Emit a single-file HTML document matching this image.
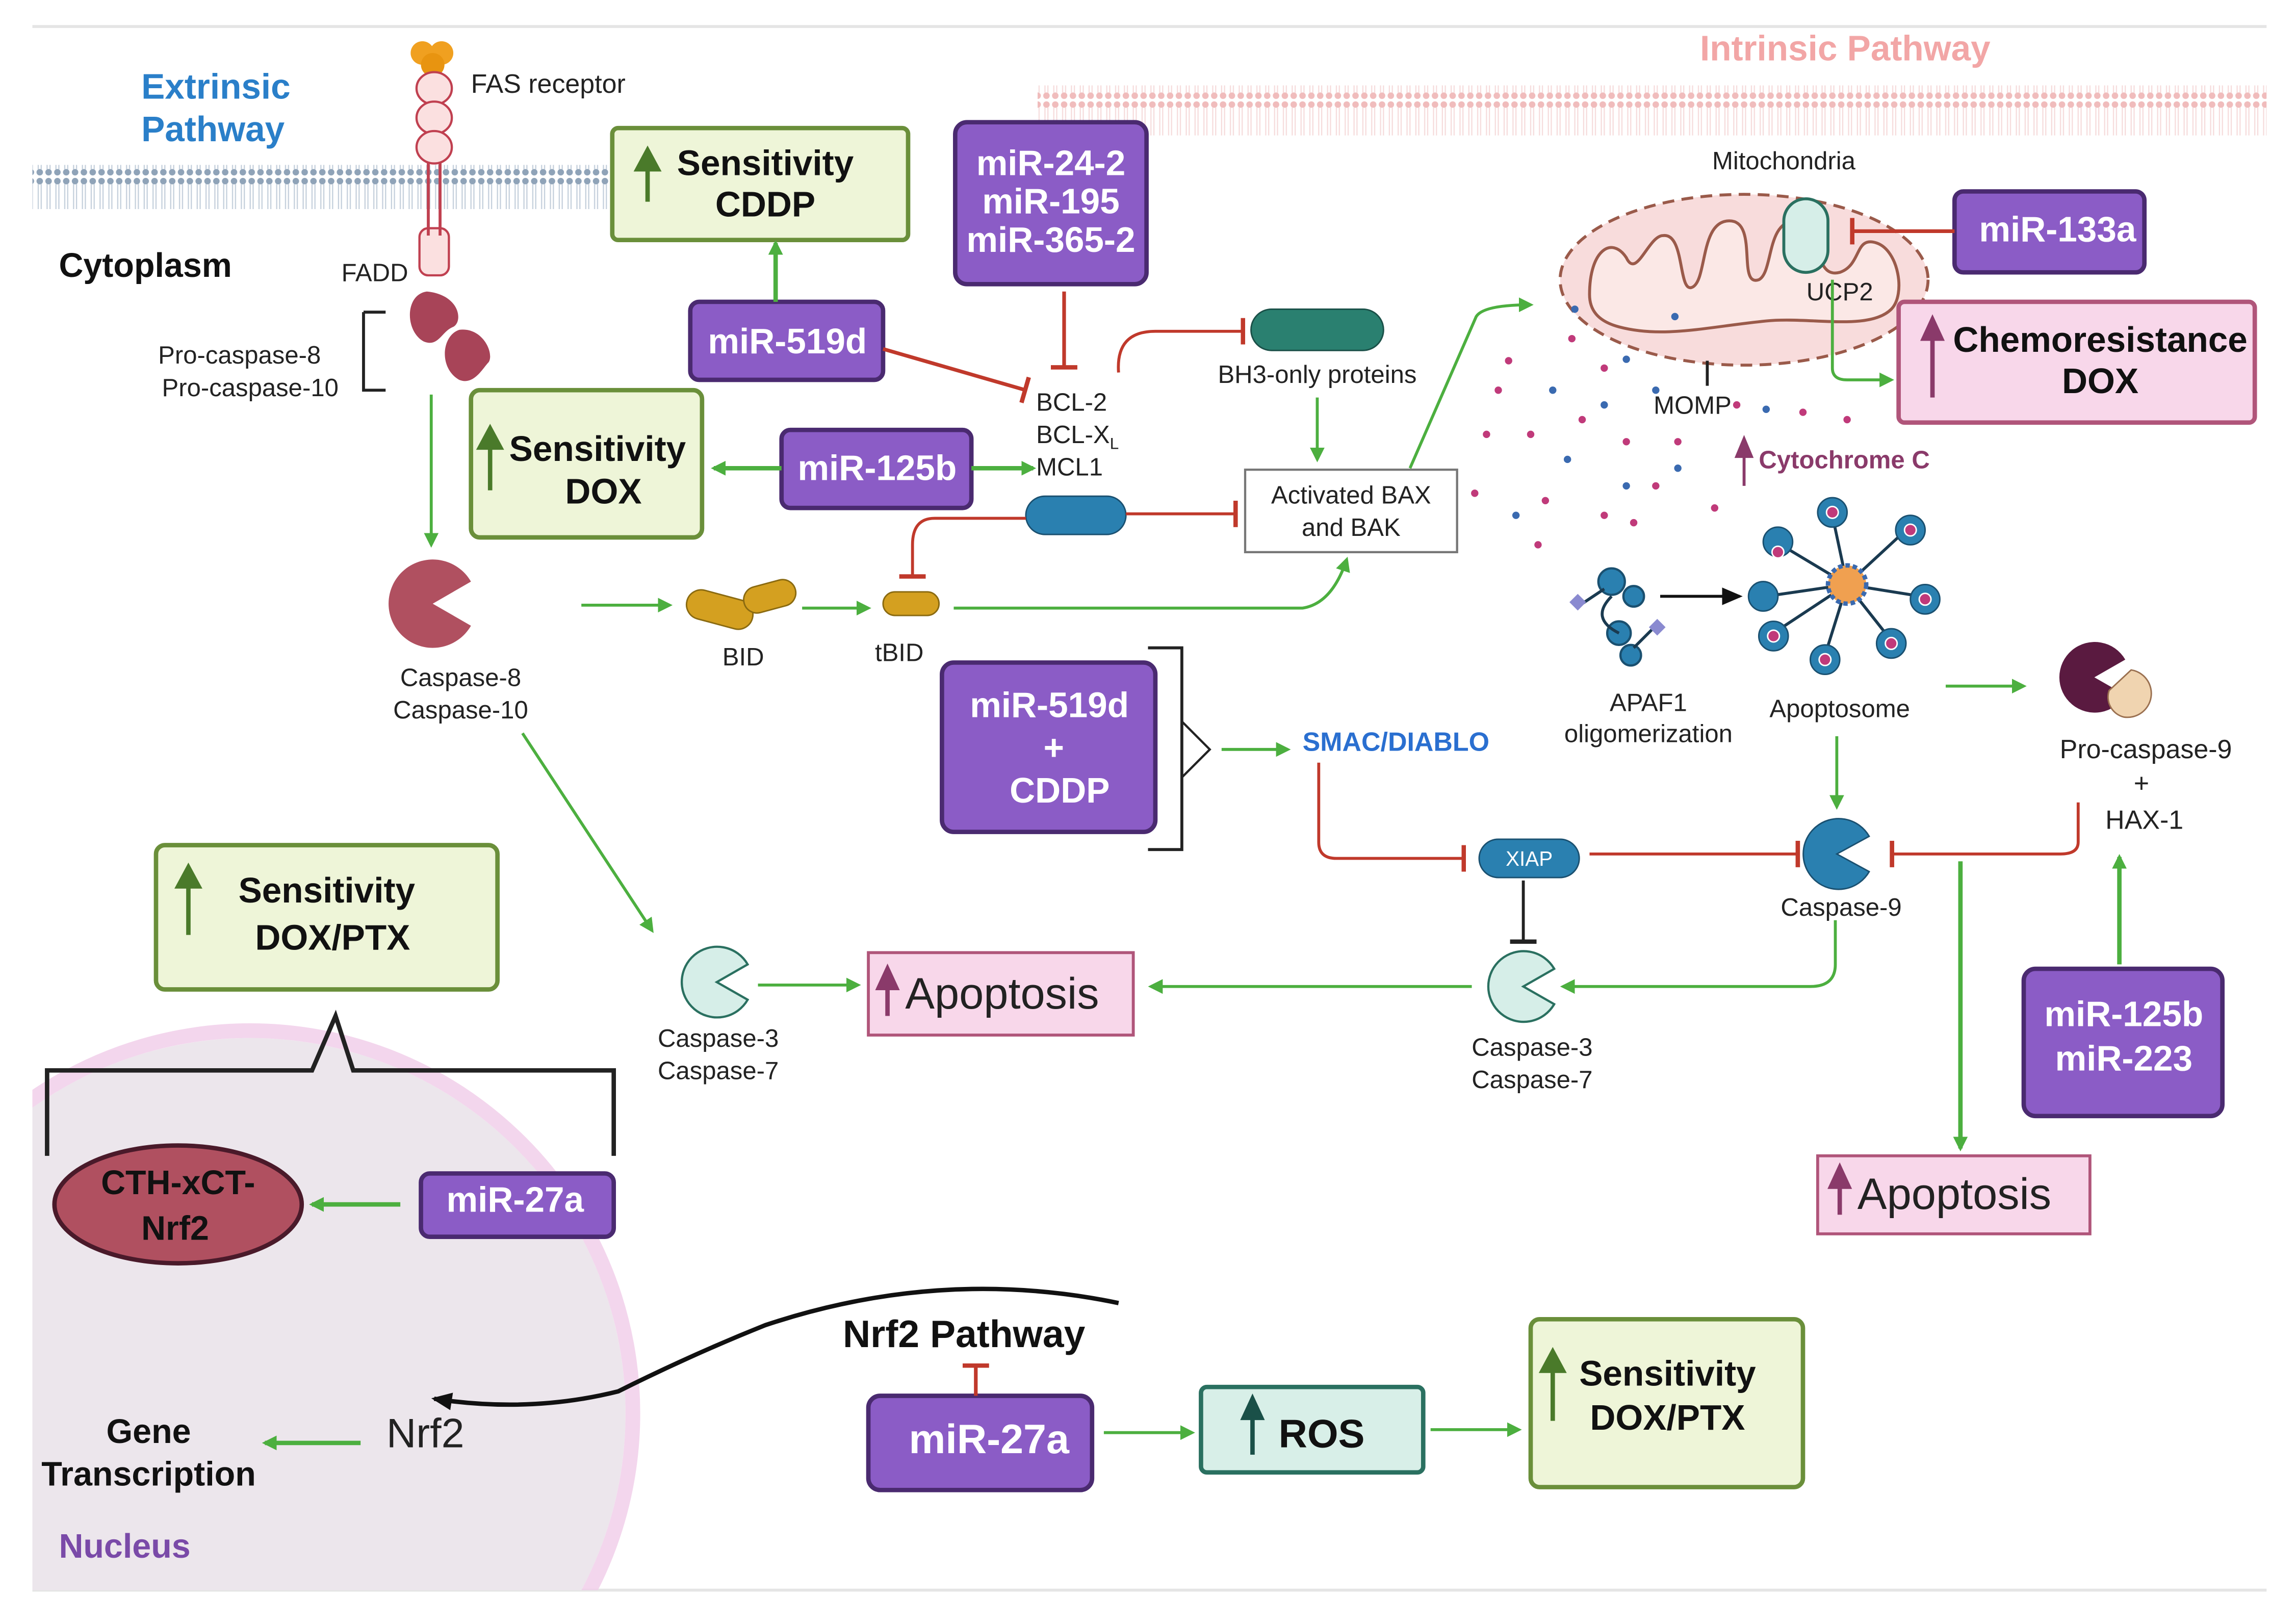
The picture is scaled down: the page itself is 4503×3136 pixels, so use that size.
<!DOCTYPE html>
<html><head><meta charset="utf-8"><style>
html,body{margin:0;padding:0;background:#fff;width:4503px;height:3136px;overflow:hidden}
svg{display:block}
text{font-family:"Liberation Sans",sans-serif}
</style></head><body>
<svg width="4503" height="3136" viewBox="0 0 1560 1086" preserveAspectRatio="none" xmlns="http://www.w3.org/2000/svg">
<defs>
<marker id="ga" markerWidth="10" markerHeight="10" refX="8" refY="5" orient="auto" markerUnits="userSpaceOnUse"><path d="M0,0 L10,5 L0,10 Z" fill="#4caf3f"/></marker>
<marker id="ba" markerWidth="14" markerHeight="12" refX="12" refY="6" orient="auto" markerUnits="userSpaceOnUse"><path d="M0,0 L14,6 L0,12 Z" fill="#111"/></marker>
<marker id="rt" markerWidth="4" markerHeight="18" refX="2" refY="9" orient="auto" markerUnits="userSpaceOnUse"><rect x="0" y="0" width="3" height="18" fill="#c0392b"/></marker>
<marker id="kt" markerWidth="4" markerHeight="18" refX="2" refY="9" orient="auto" markerUnits="userSpaceOnUse"><rect x="0" y="0" width="3" height="18" fill="#222"/></marker>
<pattern id="mem" width="6" height="30" patternUnits="userSpaceOnUse"><circle cx="3" cy="3" r="2.2" fill="#8fa3b8"/><circle cx="3" cy="27" r="2.2" fill="#8fa3b8"/><line x1="2" y1="5" x2="2" y2="25" stroke="#c5d0dc" stroke-width="0.8"/><line x1="4" y1="5" x2="4" y2="25" stroke="#c5d0dc" stroke-width="0.8"/></pattern>
<pattern id="mem2" width="6" height="34" patternUnits="userSpaceOnUse"><circle cx="3" cy="3" r="2.2" fill="#f0bcbc"/><circle cx="3" cy="31" r="2.2" fill="#f0bcbc"/><line x1="2" y1="5" x2="2" y2="29" stroke="#f6dcdc" stroke-width="0.8"/><line x1="4" y1="5" x2="4" y2="29" stroke="#f6dcdc" stroke-width="0.8"/></pattern>
<clipPath id="nc"><rect x="22" y="600" width="900" height="480"/></clipPath>
</defs>
<line x1="22" y1="18" x2="1540" y2="18" stroke="#e5e5e5" stroke-width="2"/>
<line x1="22" y1="1080" x2="1540" y2="1080" stroke="#e5e5e5" stroke-width="2"/>
<rect x="22" y="112" width="393" height="30" fill="url(#mem)"/>
<rect x="705" y="58" width="835" height="34" fill="url(#mem2)"/>
<text x="96" y="67" font-size="24" font-weight="bold" fill="#2a7fc9">Extrinsic</text>
<text x="96" y="96" font-size="24" font-weight="bold" fill="#2a7fc9">Pathway</text>
<text x="1155" y="41" font-size="24" font-weight="bold" fill="#f2a6a6">Intrinsic Pathway</text>
<g clip-path="url(#nc)">
<circle cx="170" cy="960" r="255" fill="#ece6ec"/>
<circle cx="170" cy="960" r="260" fill="none" stroke="#f0cce8" stroke-width="10" opacity="0.8"/>
</g>
<circle cx="287" cy="36" r="8" fill="#f0a020"/><circle cx="300" cy="36" r="8" fill="#f0a020"/><circle cx="294" cy="44" r="8" fill="#e89410"/>
<g fill="#fbe0e0" stroke="#c04050" stroke-width="1.5">
<ellipse cx="295" cy="60" rx="12" ry="11"/><ellipse cx="295" cy="80" rx="12" ry="11"/><ellipse cx="295" cy="100" rx="12" ry="11"/>
<rect x="285" y="155" width="20" height="32" rx="6"/></g>
<line x1="291" y1="110" x2="291" y2="160" stroke="#c04050" stroke-width="2"/><line x1="299" y1="110" x2="299" y2="160" stroke="#c04050" stroke-width="2"/>
<text x="320" y="63" font-size="18" fill="#222">FAS receptor</text>
<text x="40" y="188" font-size="23" font-weight="bold" fill="#111">Cytoplasm</text>
<text x="232" y="191" font-size="17" fill="#222">FADD</text>
<path d="M290,198 C275,200 275,225 288,232 C298,236 300,225 308,222 C315,218 312,200 290,198 Z" fill="#a84458"/>
<path d="M312,224 C300,228 298,250 312,258 C322,262 328,250 332,246 C336,240 328,222 312,224 Z" fill="#a84458"/>
<path d="M247,212 h15 M247,212 v53 h15" fill="none" stroke="#222" stroke-width="2"/>
<text x="218" y="247" font-size="17" text-anchor="end" fill="#222">Pro-caspase-8</text>
<text x="230" y="269" font-size="17" text-anchor="end" fill="#222">Pro-caspase-10</text>
<line x1="293" y1="268" x2="293" y2="370" stroke="#4caf3f" stroke-width="2" marker-end="url(#ga)"/>
<path d="M294,410 L320,395 A30,30 0 1,0 320,425 Z" fill="#b05060"/>
<text x="313" y="466" font-size="17" text-anchor="middle" fill="#222">Caspase-8</text>
<text x="313" y="488" font-size="17" text-anchor="middle" fill="#222">Caspase-10</text>
<line x1="395" y1="411" x2="455" y2="411" stroke="#4caf3f" stroke-width="2" marker-end="url(#ga)"/>
<rect x="466" y="404" width="46" height="20" rx="10" fill="#d4a020" stroke="#8a6a10" transform="rotate(15 489 414)"/>
<rect x="505" y="396" width="36" height="18" rx="9" fill="#d4a020" stroke="#8a6a10" transform="rotate(-15 523 405)"/>
<text x="505" y="452" font-size="17" text-anchor="middle" fill="#222">BID</text>
<line x1="545" y1="413" x2="590" y2="413" stroke="#4caf3f" stroke-width="2" marker-end="url(#ga)"/>
<rect x="600" y="402" width="38" height="16" rx="8" fill="#d4a020" stroke="#8a6a10"/>
<text x="611" y="449" font-size="17" text-anchor="middle" fill="#222">tBID</text>
<path d="M648,413 H885 Q905,410 915,380" fill="none" stroke="#4caf3f" stroke-width="2" marker-end="url(#ga)"/>
<line x1="355" y1="498" x2="443" y2="632" stroke="#4caf3f" stroke-width="2" marker-end="url(#ga)"/>
<path d="M487,667 L508,655 A24,24 0 1,0 508,679 Z" fill="#d6eee8" stroke="#2a7060" stroke-width="1.5"/>
<text x="488" y="711" font-size="17" text-anchor="middle" fill="#222">Caspase-3</text>
<text x="488" y="733" font-size="17" text-anchor="middle" fill="#222">Caspase-7</text>
<line x1="515" y1="669" x2="583" y2="669" stroke="#4caf3f" stroke-width="2" marker-end="url(#ga)"/>
<rect x="590" y="647" width="180" height="56" fill="#f8d7ea" stroke="#b0557a" stroke-width="2"/>
<path d="M603,690 V664 M597,671 L603,658 L609,671 Z" stroke="#8a3a6a" stroke-width="3" fill="#8a3a6a"/>
<text x="615" y="685" font-size="30" fill="#222">Apoptosis</text>
<line x1="1000" y1="670" x2="782" y2="670" stroke="#4caf3f" stroke-width="2" marker-end="url(#ga)"/>
<path d="M1035,670 L1056,658 A24,24 0 1,0 1056,682 Z" fill="#d6eee8" stroke="#2a7060" stroke-width="1.5"/>
<text x="1041" y="717" font-size="17" text-anchor="middle" fill="#222">Caspase-3</text>
<text x="1041" y="739" font-size="17" text-anchor="middle" fill="#222">Caspase-7</text>
<g fill="#eef5d8" stroke="#6a8f3a" stroke-width="3">
<rect x="416" y="87" width="201" height="76" rx="4"/>
<rect x="320" y="265" width="157" height="100" rx="6"/>
<rect x="106" y="574" width="232" height="98" rx="6"/>
<rect x="1040" y="896" width="185" height="114" rx="6"/>
</g>
<g stroke="#4a7a2a" stroke-width="3" fill="#4a7a2a">
<path d="M440,137 V110"/><path d="M433,115 L440,102 L447,115Z"/>
<path d="M333,333 V298"/><path d="M326,304 L333,291 L340,304Z"/>
<path d="M128,635 V596"/><path d="M121,602 L128,589 L135,602Z"/>
<path d="M1055,965 V925"/><path d="M1048,931 L1055,918 L1062,931Z"/>
</g>
<g font-size="24" font-weight="bold" fill="#111" text-anchor="middle">
<text x="520" y="119">Sensitivity</text><text x="520" y="147">CDDP</text>
<text x="406" y="313">Sensitivity</text><text x="410" y="342">DOX</text>
<text x="222" y="613">Sensitivity</text><text x="226" y="645">DOX/PTX</text>
<text x="1133" y="941">Sensitivity</text><text x="1133" y="971">DOX/PTX</text>
</g>
<g fill="#8b5cc6" stroke="#4a2a70" stroke-width="3">
<rect x="469" y="205" width="131" height="53" rx="6"/>
<rect x="649" y="83" width="130" height="110" rx="8"/>
<rect x="531" y="292" width="129" height="53" rx="6"/>
<rect x="1328" y="130" width="129" height="55" rx="6"/>
<rect x="640" y="450" width="145" height="115" rx="8"/>
<rect x="1375" y="658" width="135" height="100" rx="8"/>
<rect x="286" y="797" width="131" height="43" rx="6"/>
<rect x="590" y="948" width="152" height="64" rx="8"/>
</g>
<g font-size="24" font-weight="bold" fill="#fff" text-anchor="middle">
<text x="535" y="240">miR-519d</text>
<text x="714" y="119">miR-24-2</text><text x="714" y="145">miR-195</text><text x="714" y="171">miR-365-2</text>
<text x="596" y="326">miR-125b</text>
<text x="1398" y="164">miR-133a</text>
<text x="713" y="487">miR-519d</text><text x="716" y="516">+</text><text x="720" y="545">CDDP</text>
<text x="1443" y="697">miR-125b</text><text x="1443" y="727">miR-223</text>
<text x="350" y="823">miR-27a</text>
<text x="672" y="987" font-size="28">miR-27a</text>
</g>
<line x1="527" y1="205" x2="527" y2="165" stroke="#4caf3f" stroke-width="3" marker-end="url(#ga)"/>
<line x1="600" y1="237" x2="697" y2="265" stroke="#c0392b" stroke-width="2.5" marker-end="url(#rt)"/>
<line x1="723" y1="198" x2="723" y2="250" stroke="#c0392b" stroke-width="2.5" marker-end="url(#rt)"/>
<text x="704" y="279" font-size="17" fill="#222">BCL-2</text>
<text x="704" y="301" font-size="17" fill="#222">BCL-X<tspan font-size="11" dy="4">L</tspan></text>
<text x="704" y="323" font-size="17" fill="#222">MCL1</text>
<path d="M760,253 Q758,225 785,225 H845" fill="none" stroke="#c0392b" stroke-width="2" marker-end="url(#rt)"/>
<rect x="850" y="210" width="90" height="28" rx="14" fill="#2a8070" stroke="#1a5048"/>
<text x="895" y="260" font-size="17" text-anchor="middle" fill="#222">BH3-only proteins</text>
<line x1="895" y1="270" x2="895" y2="312" stroke="#4caf3f" stroke-width="2" marker-end="url(#ga)"/>
<rect x="846" y="319" width="144" height="56" fill="#fff" stroke="#777" stroke-width="1.5"/>
<text x="918" y="342" font-size="17" text-anchor="middle" fill="#222">Activated BAX</text>
<text x="918" y="364" font-size="17" text-anchor="middle" fill="#222">and BAK</text>
<line x1="531" y1="318" x2="485" y2="318" stroke="#4caf3f" stroke-width="3" marker-end="url(#ga)"/>
<line x1="660" y1="318" x2="702" y2="318" stroke="#4caf3f" stroke-width="3" marker-end="url(#ga)"/>
<rect x="697" y="337" width="68" height="26" rx="13" fill="#2a80b0" stroke="#1a5070"/>
<line x1="765" y1="349" x2="840" y2="349" stroke="#c0392b" stroke-width="2" marker-end="url(#rt)"/>
<path d="M697,352 H635 Q620,352 620,370 V392" fill="none" stroke="#c0392b" stroke-width="2" marker-end="url(#rt)"/>
<path d="M958,318 L1003,215 Q1008,207 1040,207" fill="none" stroke="#4caf3f" stroke-width="2" marker-end="url(#ga)"/>
<ellipse cx="1185" cy="190" rx="125" ry="58" fill="#f8dcdc" stroke="#9a5a4a" stroke-width="2" stroke-dasharray="8,5"/>
<path d="M1080,200 C1080,170 1095,160 1105,175 C1112,190 1120,160 1130,160 C1145,158 1140,200 1150,195 C1160,190 1155,150 1175,150 C1195,150 1180,195 1195,190 C1205,185 1200,150 1220,150 C1240,150 1230,190 1250,185 C1265,180 1260,160 1275,165 C1290,170 1295,200 1285,210 C1270,225 1230,215 1200,218 C1160,222 1130,230 1100,222 C1085,218 1080,210 1080,200 Z" fill="#fbe8e6" stroke="#9a5a4a" stroke-width="2"/>
<text x="1212" y="115" font-size="17" text-anchor="middle" fill="#222">Mitochondria</text>
<rect x="1212" y="135" width="30" height="50" rx="15" fill="#d6eee8" stroke="#2a7060" stroke-width="2"/>
<text x="1250" y="204" font-size="17" text-anchor="middle" fill="#222">UCP2</text>
<line x1="1328" y1="157" x2="1258" y2="157" stroke="#c0392b" stroke-width="2.5" marker-end="url(#rt)"/>
<path d="M1245,190 V250 Q1245,258 1255,258 H1285" fill="none" stroke="#4caf3f" stroke-width="2" marker-end="url(#ga)"/>
<rect x="1290" y="205" width="242" height="82" rx="4" fill="#f8d7ea" stroke="#b0557a" stroke-width="3"/>
<path d="M1313,270 V225 M1307,230 L1313,217 L1319,230Z" stroke="#8a3a6a" stroke-width="3" fill="#8a3a6a"/>
<text x="1427" y="239" font-size="24" font-weight="bold" text-anchor="middle" fill="#111">Chemoresistance</text>
<text x="1427" y="267" font-size="24" font-weight="bold" text-anchor="middle" fill="#111">DOX</text>
<line x1="1160" y1="245" x2="1160" y2="262" stroke="#222" stroke-width="2"/>
<text x="1150" y="281" font-size="17" text-anchor="middle" fill="#222">MOMP</text>
<path d="M1185,330 V305 M1180,310 L1185,298 L1190,310Z" stroke="#8a3a6a" stroke-width="2" fill="#8a3a6a"/>
<text x="1195" y="318" font-size="17" font-weight="bold" fill="#8a3a6a">Cytochrome C</text>
<g fill="#c03a7a">
<circle cx="1025" cy="245" r="2.5"/><circle cx="1018" cy="265" r="2.5"/><circle cx="1040" cy="295" r="2.5"/><circle cx="1010" cy="295" r="2.5"/><circle cx="1075" cy="285" r="2.5"/><circle cx="1105" cy="300" r="2.5"/><circle cx="1125" cy="330" r="2.5"/><circle cx="1090" cy="350" r="2.5"/><circle cx="1050" cy="340" r="2.5"/><circle cx="1002" cy="335" r="2.5"/><circle cx="1140" cy="300" r="2.5"/><circle cx="1165" cy="345" r="2.5"/><circle cx="1110" cy="355" r="2.5"/><circle cx="1045" cy="370" r="2.5"/><circle cx="1255" cy="285" r="2.5"/><circle cx="1225" cy="280" r="2.5"/><circle cx="1180" cy="275" r="2.5"/><circle cx="1090" cy="250" r="2.5"/><circle cx="1068" cy="230" r="2.5"/>
</g>
<g fill="#3a6ab0">
<circle cx="1070" cy="210" r="2.5"/><circle cx="1105" cy="244" r="2.5"/><circle cx="1138" cy="215" r="2.5"/><circle cx="1055" cy="265" r="2.5"/><circle cx="1030" cy="350" r="2.5"/><circle cx="1065" cy="312" r="2.5"/><circle cx="1105" cy="330" r="2.5"/><circle cx="1140" cy="318" r="2.5"/><circle cx="1200" cy="278" r="2.5"/><circle cx="1090" cy="275" r="2.5"/><circle cx="1125" cy="265" r="2.5"/>
</g>
<g fill="#2a80b0" stroke="#1a5070" stroke-width="1.5">
<circle cx="1095" cy="395" r="9"/><circle cx="1110" cy="405" r="7"/><circle cx="1100" cy="430" r="8"/><circle cx="1108" cy="445" r="7"/>
</g>
<path d="M1095,405 Q1080,420 1100,430 M1075,410 L1090,400 M1125,425 L1110,440" stroke="#1a3a50" stroke-width="2" fill="none"/>
<rect x="1068" y="405" width="8" height="8" fill="#8a8ad0" transform="rotate(45 1072 409)"/><rect x="1122" y="422" width="8" height="8" fill="#8a8ad0" transform="rotate(45 1126 426)"/>
<line x1="1128" y1="405" x2="1182" y2="405" stroke="#111" stroke-width="2" marker-end="url(#ba)"/>
<text x="1120" y="483" font-size="17" text-anchor="middle" fill="#222">APAF1</text>
<text x="1120" y="504" font-size="17" text-anchor="middle" fill="#222">oligomerization</text>
<g stroke="#1a3a50" stroke-width="2">
<line x1="1255" y1="397" x2="1245" y2="350"/><line x1="1255" y1="397" x2="1295" y2="360"/><line x1="1255" y1="397" x2="1305" y2="405"/><line x1="1255" y1="397" x2="1285" y2="435"/><line x1="1255" y1="397" x2="1240" y2="445"/><line x1="1255" y1="397" x2="1205" y2="430"/><line x1="1255" y1="397" x2="1200" y2="405"/><line x1="1255" y1="397" x2="1210" y2="370"/>
</g>
<g fill="#2a80b0" stroke="#1a5070">
<circle cx="1245" cy="348" r="10"/><circle cx="1298" cy="360" r="10"/><circle cx="1308" cy="407" r="10"/><circle cx="1285" cy="437" r="10"/><circle cx="1240" cy="448" r="10"/><circle cx="1205" cy="432" r="10"/><circle cx="1198" cy="405" r="10"/><circle cx="1208" cy="368" r="10"/>
</g>
<g fill="#c03a7a" stroke="#fff"><circle cx="1245" cy="348" r="4"/><circle cx="1298" cy="360" r="4"/><circle cx="1308" cy="407" r="4"/><circle cx="1285" cy="437" r="4"/><circle cx="1240" cy="448" r="4"/><circle cx="1205" cy="432" r="4"/><circle cx="1208" cy="375" r="4"/></g>
<circle cx="1255" cy="397" r="13" fill="#f0a050" stroke="#3a6ab0" stroke-width="3" stroke-dasharray="3,2"/>
<text x="1250" y="487" font-size="17" text-anchor="middle" fill="#222">Apoptosome</text>
<line x1="1322" y1="466" x2="1375" y2="466" stroke="#4caf3f" stroke-width="2" marker-end="url(#ga)"/>
<path d="M1423,460 L1444,448 A24,24 0 1,0 1444,472 Z" fill="#5a1a40"/>
<path d="M1448,455 a16,16 0 1,1 -5,32 a14,14 0 0,1 -10,-18 z" fill="#f0d4b0" stroke="#9a7050"/>
<text x="1458" y="515" font-size="18" text-anchor="middle" fill="#222">Pro-caspase-9</text>
<text x="1455" y="538" font-size="18" text-anchor="middle" fill="#222">+</text>
<text x="1457" y="563" font-size="18" text-anchor="middle" fill="#222">HAX-1</text>
<line x1="1248" y1="500" x2="1248" y2="548" stroke="#4caf3f" stroke-width="2" marker-end="url(#ga)"/>
<path d="M1248,580 L1270,568 A24,24 0 1,0 1270,592 Z" fill="#2a80b0" stroke="#1a5070"/>
<text x="1251" y="622" font-size="17" text-anchor="middle" fill="#222">Caspase-9</text>
<path d="M1412,545 V572 Q1412,580 1400,580 H1285" fill="none" stroke="#c0392b" stroke-width="2" marker-end="url(#rt)"/>
<rect x="1005" y="570" width="68" height="26" rx="13" fill="#2a80b0" stroke="#1a5070"/>
<text x="1039" y="588" font-size="14" text-anchor="middle" fill="#fff">XIAP</text>
<line x1="1080" y1="580" x2="1222" y2="580" stroke="#c0392b" stroke-width="2" marker-end="url(#rt)"/>
<path d="M896,518 V572 Q896,583 908,583 H995" fill="none" stroke="#c0392b" stroke-width="2" marker-end="url(#rt)"/>
<line x1="1035" y1="598" x2="1035" y2="640" stroke="#222" stroke-width="2" marker-end="url(#kt)"/>
<path d="M1247,625 V655 Q1247,670 1230,670 H1062" fill="none" stroke="#4caf3f" stroke-width="2" marker-end="url(#ga)"/>
<line x1="1332" y1="585" x2="1332" y2="780" stroke="#4caf3f" stroke-width="3" marker-end="url(#ga)"/>
<rect x="1235" y="785" width="185" height="53" fill="#f8d7ea" stroke="#b0557a" stroke-width="2"/>
<path d="M1250,825 V800 M1244,806 L1250,793 L1256,806Z" stroke="#8a3a6a" stroke-width="3" fill="#8a3a6a"/>
<text x="1262" y="821" font-size="30" fill="#222">Apoptosis</text>
<line x1="1440" y1="655" x2="1440" y2="582" stroke="#4caf3f" stroke-width="3" marker-end="url(#ga)"/>
<path d="M780,440 H803 V577 H780" fill="none" stroke="#222" stroke-width="2"/>
<path d="M803,490 L822,509 L803,528" fill="none" stroke="#222" stroke-width="1.5"/>
<line x1="830" y1="509" x2="875" y2="509" stroke="#4caf3f" stroke-width="2" marker-end="url(#ga)"/>
<text x="885" y="510" font-size="18" font-weight="bold" fill="#2a6fd0">SMAC/DIABLO</text>
<path d="M32,785 V727 H212 L228,690 L240,727 H417 V785" fill="none" stroke="#222" stroke-width="3"/>
<ellipse cx="121" cy="818" rx="84" ry="40" fill="#b05060" stroke="#4a1a2a" stroke-width="3"/>
<text x="121" y="811" font-size="23" font-weight="bold" text-anchor="middle" fill="#111">CTH-xCT-</text>
<text x="119" y="842" font-size="23" font-weight="bold" text-anchor="middle" fill="#111">Nrf2</text>
<line x1="272" y1="818" x2="212" y2="818" stroke="#4caf3f" stroke-width="3" marker-end="url(#ga)"/>
<path d="M760,885 Q640,860 520,900 Q470,920 420,945 Q360,960 295,950" fill="none" stroke="#111" stroke-width="3" marker-end="url(#ba)"/>
<text x="655" y="915" font-size="26" font-weight="bold" text-anchor="middle" fill="#111">Nrf2 Pathway</text>
<line x1="663" y1="948" x2="663" y2="927" stroke="#c0392b" stroke-width="2.5" marker-end="url(#rt)"/>
<line x1="750" y1="973" x2="810" y2="973" stroke="#4caf3f" stroke-width="2" marker-end="url(#ga)"/>
<rect x="816" y="942" width="151" height="58" rx="4" fill="#d8efe8" stroke="#2a7060" stroke-width="3"/>
<path d="M851,988 V958 M845,963 L851,950 L857,963Z" stroke="#1a5048" stroke-width="3" fill="#1a5048"/>
<text x="898" y="983" font-size="27" font-weight="bold" text-anchor="middle" fill="#111">ROS</text>
<line x1="972" y1="971" x2="1032" y2="971" stroke="#4caf3f" stroke-width="2" marker-end="url(#ga)"/>
<text x="289" y="983" font-size="28" text-anchor="middle" fill="#222">Nrf2</text>
<line x1="245" y1="980" x2="180" y2="980" stroke="#4caf3f" stroke-width="3" marker-end="url(#ga)"/>
<text x="101" y="980" font-size="23" font-weight="bold" text-anchor="middle" fill="#111">Gene</text>
<text x="101" y="1009" font-size="23" font-weight="bold" text-anchor="middle" fill="#111">Transcription</text>
<text x="40" y="1058" font-size="23" font-weight="bold" fill="#7a4aa8">Nucleus</text>
</svg>
</body></html>
